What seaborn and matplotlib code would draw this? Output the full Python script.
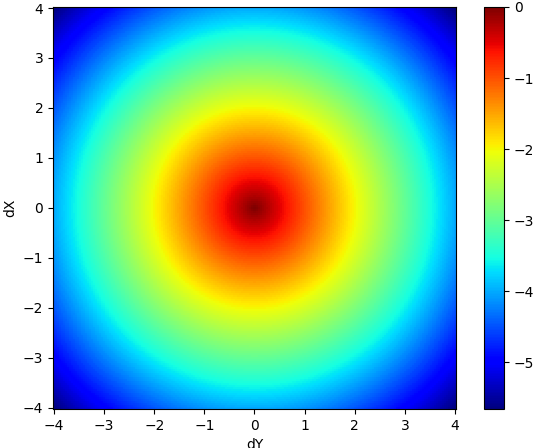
import numpy as np
import pandas as pd
import matplotlib
matplotlib.use("Agg")
import matplotlib.pyplot as plt
import seaborn as sn

# grid of offsets (pixel centres), value is minus the radial distance
dy_vals = np.linspace(-4, 4, 201)
dx_vals = np.linspace(4, -4, 201)          # top row is dX = 4
x_ticks = [-4, -3, -2, -1, 0, 1, 2, 3, 4]
y_ticks = [-4, -3, -2, -1, 0, 1, 2, 3, 4]
cbar_ticks = [0, -1, -2, -3, -4, -5]

DY, DX = np.meshgrid(dy_vals, dx_vals)
field = -np.sqrt(DX**2 + DY**2)
df = pd.DataFrame(field, index=dx_vals, columns=dy_vals)

fig = plt.figure(figsize=(5.47, 4.48), dpi=100)
ax = fig.add_axes([53/547, 39/448, 403/547, 402/448])
cax = fig.add_axes([484/547, 39/448, 20/547, 402/448])

sn.heatmap(df, cmap="jet", vmin=field.min(), vmax=0, ax=ax, cbar_ax=cax,
           xticklabels=False, yticklabels=False, rasterized=True)

step = dy_vals[1] - dy_vals[0]
ax.set_xticks([(t - dy_vals[0]) / step + 0.5 for t in x_ticks])
ax.set_xticklabels([f"{t:d}".replace("-", "\u2212") for t in x_ticks])
ax.set_yticks([(dx_vals[0] - t) / step + 0.5 for t in y_ticks])
ax.set_yticklabels([f"{t:d}".replace("-", "\u2212") for t in y_ticks], rotation=0)
ax.tick_params(length=3.5, width=0.8, labelsize=10)
for s in ax.spines.values():
    s.set_visible(True)
    s.set_linewidth(0.8)
ax.set_xlabel("dY")
ax.set_ylabel("dX")

cax.set_yticks(cbar_ticks)
cax.set_yticklabels([f"{t:d}".replace("-", "\u2212") for t in cbar_ticks])
cax.tick_params(length=3.5, width=0.8, labelsize=10)
cb = ax.collections[0].colorbar
cb.outline.set_linewidth(0.8)
cb.outline.set_edgecolor("black")

plt.savefig("out.png", dpi=100)
